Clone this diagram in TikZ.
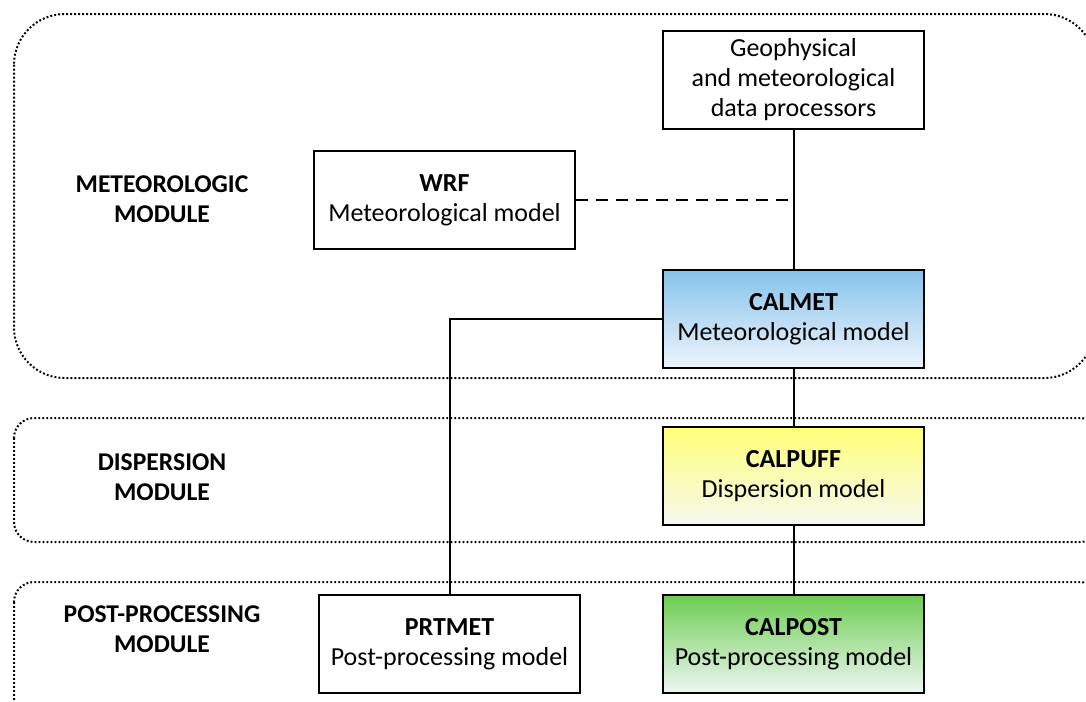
\documentclass[tikz,border=0pt]{standalone}
\usepackage{fontspec}
\setmainfont{Carlito}
\usepackage{tikz}
\usetikzlibrary{shapes}
\usetikzlibrary{arrows}
\definecolor{metblue}{RGB}{135,195,235}
\definecolor{metpale}{RGB}{237,244,252}
\definecolor{puffyellow}{RGB}{255,255,120}
\definecolor{puffpale}{RGB}{245,248,240}
\definecolor{postgreen}{RGB}{110,205,82}
\definecolor{postpale}{RGB}{237,246,242}
\tikzstyle{block} = [rectangle, draw, line width=1.5pt, align=center,
    minimum width=195.75pt, minimum height=73.5pt, inner sep=2pt,
    font=\fontsize{19.5}{22.5}\selectfont]
\tikzstyle{module} = [align=center, font=\fontsize{19.2}{22.5}\selectfont\bfseries]
\tikzstyle{line} = [draw, line width=1.5pt]
\tikzstyle{frame} = [draw, line width=1.5pt, dash pattern=on 1.4pt off 1.6pt]

\begin{document}
\begin{tikzpicture}[x=0.75pt, y=-0.75pt, node distance=120pt]
    \clip (0,0) rectangle (1086,701);
    % Module frames
    \draw [frame, rounded corners=38pt] (14,14) rectangle (1095,378);
    \draw [frame, rounded corners=15pt] (14,418) rectangle (1100,542);
    \draw [frame, rounded corners=15pt] (14,582) rectangle (1100,740);
    % Place nodes
    \node [module] (metLabel) at (162,199) {METEOROLOGIC\\MODULE};
    \node [module] (dispLabel) at (162,477) {DISPERSION\\MODULE};
    \node [module] (postLabel) at (162,629) {POST-PROCESSING\\MODULE};
    \node [block, fill=white] (geo) at (793.5,80) {Geophysical\\and meteorological\\data processors};
    \node [block, fill=white] (wrf) at (444.5,200) {\textbf{WRF}\\Meteorological model};
    \node [block, top color=metblue, bottom color=metpale, below of=geo, node distance=179.25pt] (calmet) {\textbf{CALMET}\\Meteorological model};
    \node [block, top color=puffyellow, bottom color=puffpale, below of=calmet, node distance=118.1pt] (calpuff) {\textbf{CALPUFF}\\Dispersion model};
    \node [block, top color=postgreen, bottom color=postpale, below of=calpuff, node distance=125.6pt] (calpost) {\textbf{CALPOST}\\Post-processing model};
    \node [block, fill=white, left of=calpost, node distance=258pt] (prtmet) {\textbf{PRTMET}\\Post-processing model};
    % Draw edges
    \path [line] (geo) -- (calmet);
    \draw [line width=1.5pt, dash pattern=on 9pt off 6pt, shorten >=4pt] (wrf.east) -- (wrf.east -| geo.south);
    \path [line] (calmet) -- (calpuff);
    \path [line] (calpuff) -- (calpost);
    \draw [line width=1.5pt] (calmet.west) -| (prtmet.north);
\end{tikzpicture}
\end{document}
